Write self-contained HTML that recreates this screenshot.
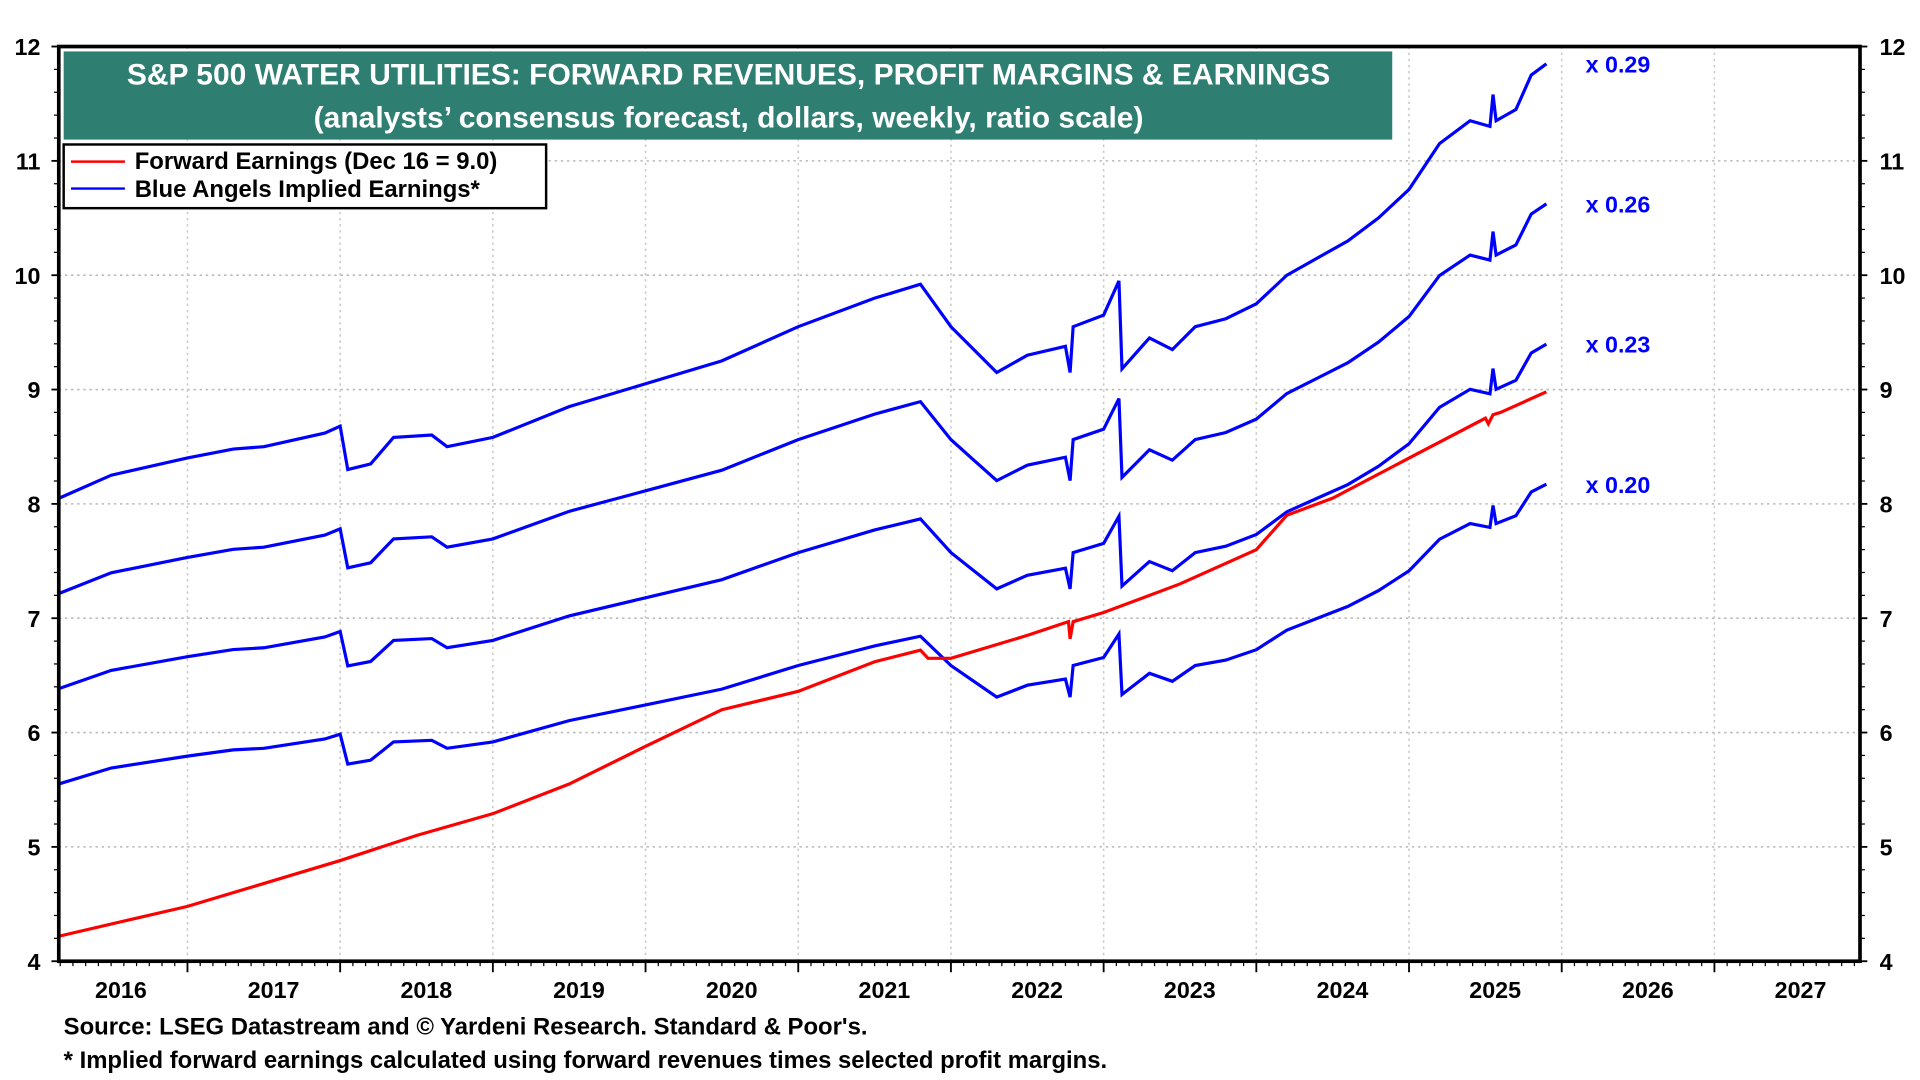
<!DOCTYPE html>
<html><head><meta charset="utf-8"><style>
html,body{margin:0;padding:0;background:#fff;}
svg{display:block;font-family:"Liberation Sans",Arial,sans-serif;font-weight:bold;}
</style></head><body>
<svg id="chart" width="1920" height="1080" viewBox="0 0 1568 882" xmlns="http://www.w3.org/2000/svg">
<g id="grid"></g>
<g id="series"></g>
<rect x="48" y="38" width="1471" height="747" fill="none" stroke="#000" stroke-width="3"/>
<g id="axes"></g>
<g>
<rect x="52" y="42" width="1085" height="72" fill="#2e7e72"/>
<text x="595" y="69" text-anchor="middle" fill="#fff" font-size="24.5">S&amp;P 500 WATER UTILITIES: FORWARD REVENUES, PROFIT MARGINS &amp; EARNINGS</text>
<text x="595" y="104" text-anchor="middle" fill="#fff" font-size="24.5">(analysts’ consensus forecast, dollars, weekly, ratio scale)</text>
</g>
<g>
<rect x="52" y="118" width="394" height="52" fill="#fff" stroke="#000" stroke-width="2"/>
<line x1="58" y1="132" x2="102" y2="132" stroke="#f00" stroke-width="2"/>
<text x="110" y="138" font-size="19.5">Forward Earnings (Dec 16 = 9.0)</text>
<line x1="58" y1="154" x2="102" y2="154" stroke="#00f" stroke-width="2"/>
<text x="110" y="161" font-size="19.5">Blue Angels Implied Earnings*</text>
</g>
<text x="52" y="845" font-size="19.5">Source: LSEG Datastream and © Yardeni Research. Standard &amp; Poor's.</text>
<text x="52" y="872" font-size="19.5">* Implied forward earnings calculated using forward revenues times selected profit margins.</text>
</svg>
<script>
const yTicks=[4,5,6,7,8,9,10,11,12];
const years=[2016,2017,2018,2019,2020,2021,2022,2023,2024,2025,2026,2027];
const margins=[0.29,0.26,0.23,0.20];
const marginLabels=["x 0.29","x 0.26","x 0.23","x 0.20"];
const revDates=[2016.16,2016.5,2017.0,2017.3,2017.5,2017.9,2018.0,2018.05,2018.2,2018.35,2018.6,2018.7,2019.0,2019.5,2020.0,2020.5,2021.0,2021.5,2021.8,2022.0,2022.15,2022.3,2022.5,2022.75,2022.78,2022.8,2023.0,2023.1,2023.12,2023.3,2023.45,2023.6,2023.8,2024.0,2024.2,2024.4,2024.6,2024.8,2025.0,2025.2,2025.4,2025.53,2025.55,2025.57,2025.7,2025.8,2025.9];
const revenues=[27.76,28.45,28.97,29.24,29.31,29.72,29.93,28.62,28.79,29.59,29.66,29.31,29.59,30.52,31.21,31.90,32.93,33.79,34.21,32.93,32.24,31.55,32.07,32.34,31.55,32.93,33.28,34.31,31.66,32.59,32.24,32.93,33.17,33.62,34.48,35.00,35.52,36.21,37.07,38.45,39.14,38.97,39.93,39.14,39.48,40.52,40.86];
const earnDates=[2016.16,2017.0,2018.0,2018.5,2019.0,2019.5,2020.0,2020.5,2021.0,2021.5,2021.8,2021.85,2022.0,2022.5,2022.77,2022.78,2022.8,2023.0,2023.5,2024.0,2024.2,2024.5,2025.0,2025.5,2025.52,2025.55,2025.6,2025.9];
const earnings=[4.22,4.48,4.88,5.10,5.29,5.55,5.88,6.20,6.36,6.62,6.72,6.65,6.65,6.85,6.97,6.82,6.97,7.05,7.30,7.60,7.90,8.05,8.40,8.75,8.70,8.78,8.80,8.98];

const NS="http://www.w3.org/2000/svg";
const X0=48,X1=1519,Y0=38,Y1=785;
const yr0=2016.0,pxYear=124.7,base=28.4;
function xs(t){return base+(t-yr0)*pxYear;}
function ys(v){return Y1-(v-4)/(12-4)*(Y1-Y0);}
function mk(tag,attrs,parent){const e=document.createElementNS(NS,tag);for(const k in attrs)e.setAttribute(k,attrs[k]);parent.appendChild(e);return e;}
const grid=document.getElementById('grid'),axes=document.getElementById('axes'),series=document.getElementById('series');

yTicks.forEach(v=>{
  const y=ys(v);
  if(v>4&&v<12){const l=mk('line',{x1:X0,x2:X1,y1:y,y2:y,stroke:'#bbb','stroke-width':1.3,'stroke-dasharray':'2,3'},grid);
  
  }
  const tl=mk('text',{x:33,y:y+7,'text-anchor':'end','font-size':19},axes);tl.textContent=v;
  
  
  const tr=mk('text',{x:1535,y:y+7,'text-anchor':'start','font-size':19},axes);tr.textContent=v;
  
  
  mk('line',{x1:X0-6,x2:X0,y1:y,y2:y,stroke:'#000','stroke-width':1.5},axes);
  mk('line',{x1:X1,x2:X1+6,y1:y,y2:y,stroke:'#000','stroke-width':1.5},axes);
});
for(let v=4;v<12;v+=0.2){const y=ys(v);
  mk('line',{x1:X0-4,x2:X0,y1:y,y2:y,stroke:'#000','stroke-width':1},axes);
  mk('line',{x1:X1,x2:X1+4,y1:y,y2:y,stroke:'#000','stroke-width':1},axes);}
years.forEach(yr=>{
  const x=xs(yr);
  if(x>X0&&x<X1){const g=mk('line',{x1:x,x2:x,y1:Y0,y2:Y1,stroke:'#ccc','stroke-width':1.3,'stroke-dasharray':'2,3'},grid);
  
  
  mk('line',{x1:x,x2:x,y1:Y1,y2:Y1+9,stroke:'#000','stroke-width':1.5},axes);}
  for(let m=1;m<12;m++){const xm=xs(yr+m/12);if(xm>X0&&xm<X1)mk('line',{x1:xm,x2:xm,y1:Y1,y2:Y1+4,stroke:'#000','stroke-width':1},axes);}
  const t=mk('text',{x:xs(yr+0.5)+8,y:815,'text-anchor':'middle','font-size':19},axes);t.textContent=yr;
  
  
});

function pathFrom(dates,vals){return dates.map((d,i)=>(i?'L':'M')+xs(d).toFixed(1)+','+ys(vals[i]).toFixed(1)).join('');}
margins.forEach((m,j)=>{
  const vals=revenues.map(r=>r*m);
  const p=mk('path',{d:pathFrom(revDates,vals),fill:'none',stroke:'#00f','stroke-width':2.6,'stroke-linejoin':'miter'},series);
  
  
  const last=vals[vals.length-1];
  const t=mk('text',{x:xs(revDates[revDates.length-1])+32,y:ys(last)+7,fill:'#00f','font-size':19},series);
  t.textContent=marginLabels[j];
  
  
});
const red=mk('path',{d:pathFrom(earnDates,earnings),fill:'none',stroke:'#f00','stroke-width':2.6},series);


</script>
</body></html>
